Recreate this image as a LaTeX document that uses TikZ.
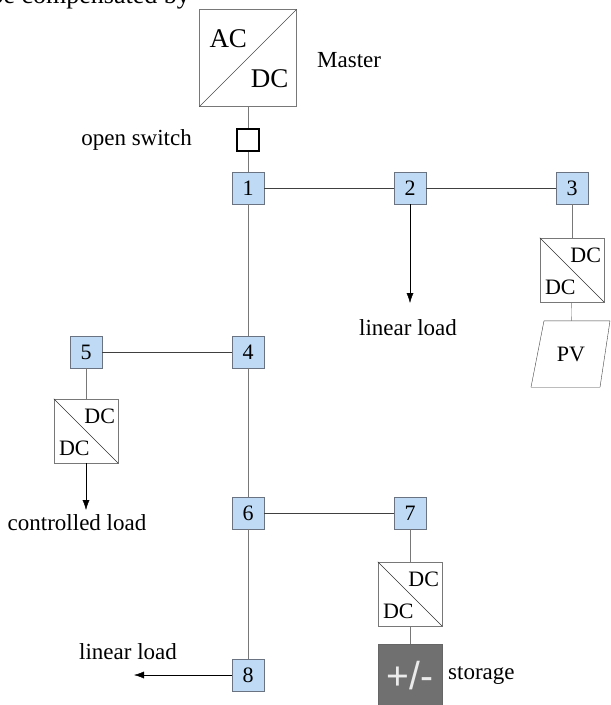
\documentclass[tikz,border=0pt]{standalone}
\usepackage{fontspec}
\setmainfont{Liberation Serif}
\newfontfamily\plusfont{Liberation Sans}
\usepackage{tikz}
\usetikzlibrary{arrows.meta,positioning}
\definecolor{busblue}{RGB}{190,218,245}
\definecolor{busedge}{RGB}{105,115,130}
\definecolor{wiregray}{RGB}{120,120,120}
\definecolor{storegray}{RGB}{112,112,112}
\begin{document}
\begin{tikzpicture}[x=1pt,y=-1pt,>={Latex[length=10pt,width=7pt]}]%
        \useasboundingbox (0,0) rectangle (611,705);%%
        \tikzstyle{txt}=[font=\fontsize{23}{26}\selectfont,inner sep=0pt];%%
        \tikzstyle{conv}=[draw=wiregray,fill=white,minimum size=64pt,inner sep=0pt];%%
        \node[txt,anchor=base east,font=\fontsize{26}{28}\selectfont] (top) at (190,3) {be compensated by}; %%
        \begin{scope}
            \tikzstyle{every node}=[draw=busedge,fill=busblue,minimum size=32pt,inner sep=0pt,font=\fontsize{22}{24}\selectfont];%%
            \node (b1) at (248,188)  {1}; %%
            \node (b2) at (410,188)  {2}; %%
            \node (b3) at (572,188)  {3}; %%
            \node (b4) at (248,352)  {4}; %%
            \node (b5) at (86,352)  {5}; %%
            \node (b6) at (248,513)  {6}; %%
            \node (b7) at (410,513)  {7}; %%
            \node (b8) at (248,675)  {8}; %%
        \end{scope}
        \begin{scope}
    \node[conv,minimum size=97pt] (master) at (248,58) {}; %%
    \draw[black!70] (master.south west)--(master.north east); %%
    \node[txt,font=\fontsize{27}{30}\selectfont,anchor=base west] at ([xshift=10pt,yshift=-38pt]master.north west) {AC}; %%
    \node[txt,font=\fontsize{27}{30}\selectfont,anchor=base east] at ([xshift=-8pt,yshift=19pt]master.south east) {DC}; %%
    \node[draw=black,line width=2.8pt,minimum size=22pt,inner sep=0pt] (sw) at (248,140) {}; %%
    \node[conv] (c3) at (572,270) {}; %%
    \node[conv] (c5) at (86,431) {}; %%
    \node[conv] (c7) at (410,594) {}; %%
    \node[minimum width=54pt,minimum height=66pt,inner sep=0pt,font=\fontsize{22}{24}\selectfont] (pv) at (571,354) {PV}; %%
    \draw[black!75] ([xshift=-27pt]pv.north) -- ([xshift=39pt]pv.north) -- ([xshift=29pt]pv.south) -- ([xshift=-40pt]pv.south) -- cycle; %%
    \node[fill=storegray,draw=black!60,minimum size=64pt,inner sep=0pt,text=white!92!black,font=\plusfont\fontsize{39}{40}\selectfont] (st) at (410,676) {+/-}; %%
        \end{scope}
        \foreach \c in {c3,c5,c7}{%
            \draw[black!80] (\c.north west)--(\c.south east); %%
            \node[txt,font=\fontsize{22}{24}\selectfont,anchor=base east] at ([xshift=-3pt,yshift=-25pt]\c.north east) {DC}; %%
            \node[txt,font=\fontsize{22}{24}\selectfont,anchor=base west] at ([xshift=5pt,yshift=8pt]\c.south west) {DC}; %%
        }
        \begin{scope}
    \tikzstyle{every node}=[txt];%%
    \node[anchor=west] (lmaster) at (317,60)  {Master}; %%
    \node[anchor=east] (lsw) at (192,140)  {open switch}; %%
    \node (lload2) at (408,328)  {linear load}; %%
    \node (lctrl) at (77,523)  {controlled load}; %%
    \node (lload8) at (128,652)  {linear load}; %%
    \node[anchor=west] (lst) at (448,675)  {storage}; %%
        \end{scope}
        \coordinate (e2) at (410,303); %%
        \coordinate (e5) at (86,510); %%
        \coordinate (e8) at (134,675); %%
        \draw[wiregray] (master)--(sw); %%
        \draw[wiregray] (sw)--(b1); %%
        \draw[black!75] (b1)--(b2); %%
        \draw[black!75] (b2)--(b3); %%
        \draw[wiregray] (b1)--(b4); %%
        \draw[black!75] (b5)--(b4); %%
        \draw[wiregray] (b4)--(b6); %%
        \draw[black!75] (b6)--(b7); %%
        \draw[wiregray] (b6)--(b8); %%
        \draw[wiregray] (b3)--(c3); %%
        \draw[wiregray] (c3)--(pv); %%
        \draw[wiregray] (b5)--(c5); %%
        \draw[wiregray] (b7)--(c7); %%
        \draw[wiregray] (c7)--(st); %%
        \draw[->] (b2)--(e2); %%
        \draw[->] (c5)--(e5); %%
        \draw[->] (b8)--(e8); %%
        \end{tikzpicture}
\end{document}
